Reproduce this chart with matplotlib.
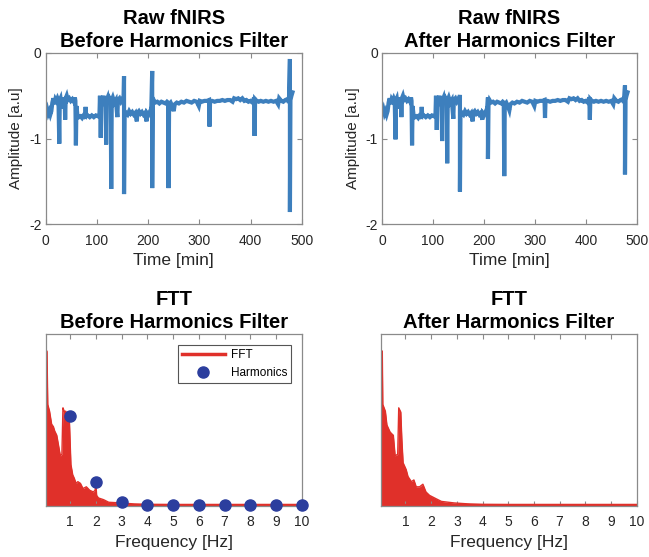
import numpy as np
import matplotlib
matplotlib.use("Agg")
import matplotlib.pyplot as plt

plt.rcParams['font.family'] = ['Liberation Sans', 'DejaVu Sans']

# ---------------- time series (shared baseline) ----------------
base_time = [0, 1, 3, 5, 7, 9, 11, 13, 15, 17, 19, 21, 23, 25, 27.5, 29, 31, 33, 35, 37, 39, 41, 43, 46,
             49, 52, 55, 57, 58, 60, 62, 65, 68, 71, 74, 77, 78, 79, 82, 86, 90, 94, 98, 102, 105, 106,
             109, 111, 113, 115, 117, 119, 121, 123, 125, 127, 129, 131, 134, 137, 141, 144, 147, 150,
             152, 154, 157, 160, 163, 166, 169, 172, 175, 179, 182, 185, 188, 191, 194, 198, 201, 204,
             206, 209, 211, 214, 218, 222, 226, 230, 234, 237, 239, 241, 244, 247, 252, 256, 260, 265,
             270, 275, 280, 285, 290, 295, 301, 305, 310, 315, 319, 321, 325, 330, 335, 340, 345, 350,
             355, 360, 365, 368, 372, 376, 380, 384, 388, 392, 396, 400, 404, 407, 409, 412, 416, 420,
             425, 430, 435, 440, 445, 450, 456, 460, 464, 468, 472, 475, 478, 480, 482]
base_level = [-0.65, -0.70, -0.66, -0.71, -0.68, -0.72, -0.68, -0.58, -0.53, -0.60, -0.54, -0.56, -0.53,
              -0.56, -0.55, -0.53, -0.62, -0.55, -0.65, -0.52, -0.53, -0.50, -0.55, -0.53, -0.56, -0.54,
              -0.57, -0.52, -0.56, -0.62, -0.73, -0.75, -0.74, -0.76, -0.73, -0.74, -0.63, -0.74, -0.73,
              -0.75, -0.73, -0.75, -0.73, -0.74, -0.72, -0.50, -0.52, -0.55, -0.50, -0.60, -0.53, -0.55,
              -0.52, -0.60, -0.53, -0.55, -0.55, -0.52, -0.58, -0.55, -0.55, -0.53, -0.57, -0.54, -0.56,
              -0.68, -0.70, -0.72, -0.68, -0.71, -0.69, -0.72, -0.70, -0.70, -0.68, -0.71, -0.69, -0.72,
              -0.70, -0.70, -0.72, -0.68, -0.72, -0.60, -0.55, -0.58, -0.57, -0.59, -0.57, -0.58, -0.59,
              -0.57, -0.58, -0.60, -0.58, -0.62, -0.60, -0.58, -0.59, -0.57, -0.58, -0.56, -0.57, -0.58,
              -0.56, -0.57, -0.56, -0.57, -0.56, -0.56, -0.55, -0.56, -0.56, -0.57, -0.56, -0.56, -0.55,
              -0.56, -0.55, -0.55, -0.57, -0.53, -0.54, -0.53, -0.55, -0.53, -0.56, -0.55, -0.57, -0.56,
              -0.58, -0.52, -0.54, -0.56, -0.57, -0.56, -0.57, -0.56, -0.57, -0.56, -0.57, -0.56, -0.53,
              -0.56, -0.57, -0.55, -0.54, -0.58, -0.55, -0.50, -0.46]

# spikes: time, lowest value, highest value (None = no upward excursion)
spike_time = [26.5, 38, 59, 107.5, 118, 128, 140, 153, 178, 197, 208, 240, 250, 299, 320, 408, 454, 477]
spike_low_before = [-1.06, -0.78, -1.08, -0.99, -1.07, -1.59, -0.75, -1.65, -0.80, -0.80, -1.58, -1.58,
                    -0.68, -0.62, -0.86, -0.97, -0.60, -1.86]
spike_high_before = [None, None, None, None, None, None, None, -0.27, None, None, -0.21, None,
                     None, None, None, None, None, -0.07]
spike_low_after = [-1.01, -0.75, -1.08, -0.90, -1.03, -1.29, -0.77, -1.62, -0.80, -0.78, -1.24, -1.44,
                   -0.67, -0.62, -0.76, -0.78, -0.60, -1.42]
spike_high_after = [None, None, None, None, None, None, None, -0.49, None, None, -0.52, None,
                    None, None, None, None, None, -0.38]

# ---------------- spectra (envelopes) ----------------
freq_before = [0.05, 0.1, 0.13, 0.2, 0.28, 0.35, 0.4, 0.48, 0.55, 0.62, 0.68, 0.72, 0.77, 0.83, 0.9,
               0.97, 1.03, 1.1, 1.16, 1.23, 1.3, 1.4, 1.5, 1.63, 1.76, 1.9, 1.97, 2.0, 2.03, 2.1, 2.3,
               2.5, 3.0, 3.5, 4.0, 5.0, 6.0, 7.0, 8.0, 9.0, 10.0]
amp_before = [0.906, 0.90, 0.59, 0.55, 0.475, 0.46, 0.435, 0.41, 0.35, 0.29, 0.30, 0.57, 0.55, 0.55,
              0.53, 0.50, 0.24, 0.18, 0.16, 0.13, 0.14, 0.13, 0.10, 0.11, 0.09, 0.08, 0.09, 0.13, 0.06,
              0.045, 0.035, 0.02, 0.016, 0.010, 0.007, 0.006, 0.006, 0.006, 0.006, 0.006, 0.006]
harm_freq = [1, 2, 3, 4, 5, 6, 7, 8, 9, 10]
harm_amp = [0.52, 0.14, 0.023, 0.002, 0.002, 0.002, 0.002, 0.002, 0.002, 0.002]

freq_after = [0.05, 0.1, 0.12, 0.22, 0.28, 0.34, 0.4, 0.46, 0.53, 0.6, 0.7, 0.74, 0.82, 0.86, 0.91,
              1.03, 1.1, 1.23, 1.33, 1.42, 1.55, 1.68, 1.8, 1.94, 2.07, 2.2, 2.4, 2.9, 3.5, 4.0, 5.0,
              6.0, 7.0, 8.0, 9.0, 10.0]
amp_after = [0.906, 0.90, 0.59, 0.55, 0.47, 0.45, 0.43, 0.42, 0.41, 0.29, 0.30, 0.57, 0.545, 0.39, 0.25,
             0.21, 0.17, 0.14, 0.15, 0.11, 0.11, 0.125, 0.08, 0.06, 0.05, 0.04, 0.025, 0.016, 0.010,
             0.007, 0.006, 0.006, 0.006, 0.006, 0.006, 0.006]


def build_series(lows, highs):
    pts = list(zip(base_time, base_level))
    for t, lo, hi in zip(spike_time, lows, highs):
        if hi is not None:
            pts.append((t - 0.01, hi))
        pts.append((t, lo))
    pts.sort(key=lambda p: p[0])
    return [p[0] for p in pts], [p[1] for p in pts]


W, H = 649, 557
fig = plt.figure(figsize=(W / 100, H / 100), dpi=100)


def ax_px(l, r, t, b):
    return fig.add_axes([l / W, (H - b) / H, (r - l) / W, (b - t) / H])


LINE = '#3d7fbd'
RED = '#e0302a'
DOT = '#2c3e9e'
SPINE = '#8a8a8a'
TXT = '#262626'
TITLE_KW = dict(fontsize=14.5, fontweight='bold', color='black', pad=4, linespacing=1.3)


def style(ax):
    for s in ax.spines.values():
        s.set_color(SPINE)
        s.set_linewidth(0.9)
    ax.tick_params(direction='in', top=True, right=True, colors=SPINE, labelcolor=TXT,
                   labelsize=10, length=3.5, width=0.8)
    ax.tick_params(axis='x', pad=7)
    ax.tick_params(axis='y', pad=3)


for (l, r), lows, highs, sub in [((45.7, 301.7), spike_low_before, spike_high_before, 'Before Harmonics Filter'),
                                  ((382, 636.7), spike_low_after, spike_high_after, 'After Harmonics Filter')]:
    ax = ax_px(l, r, 53, 224)
    tx, vy = build_series(lows, highs)
    ax.plot(tx, vy, color=LINE, lw=3.0, solid_joinstyle='miter')
    ax.set_xlim(0, 500)
    ax.set_ylim(-2, 0)
    ax.set_xticks([0, 100, 200, 300, 400, 500])
    ax.set_yticks([-2, -1, 0])
    ax.set_yticklabels(['-2', '-1', '0'])
    style(ax)
    ax.set_xlabel('Time [min]', fontsize=12.5, color=TXT, labelpad=4)
    ax.set_ylabel('Amplitude [a.u]', fontsize=11, color=TXT, labelpad=4)
    ax.set_title('Raw fNIRS\n' + sub, **TITLE_KW)

for (l, r), fr, am, sub, harm in [((45.7, 301.7), freq_before, amp_before, 'Before Harmonics Filter', True),
                                   ((381, 636.7), freq_after, amp_after, 'After Harmonics Filter', False)]:
    ax = ax_px(l, r, 334, 505.7)
    ax.fill_between(fr, 0, am, color=RED, lw=0)
    ax.plot(fr, am, color=RED, lw=1.0)
    ax.plot([fr[0], fr[-1]], [0.003, 0.003], color=RED, lw=2.5, label='FFT')
    if harm:
        ax.plot(harm_freq, harm_amp, 'o', color=DOT, ms=8, label='Harmonics', clip_on=False, zorder=5)
        leg = ax.legend(loc='upper right', fontsize=8.5, frameon=True, fancybox=False,
                        edgecolor='#555555', framealpha=1, borderaxespad=0.9,
                        handlelength=3.6, handletextpad=0.5, borderpad=0.35)
        leg.get_frame().set_linewidth(0.8)
    ax.set_xlim(0.05, 10)
    ax.set_ylim(0, 1)
    ax.set_xticks(harm_freq)
    ax.set_yticks([])
    style(ax)
    ax.tick_params(right=False)
    ax.set_xlabel('Frequency [Hz]', fontsize=12.5, color=TXT, labelpad=4)
    ax.set_title('FTT\n' + sub, **TITLE_KW)

fig.savefig('out.png', dpi=100)
